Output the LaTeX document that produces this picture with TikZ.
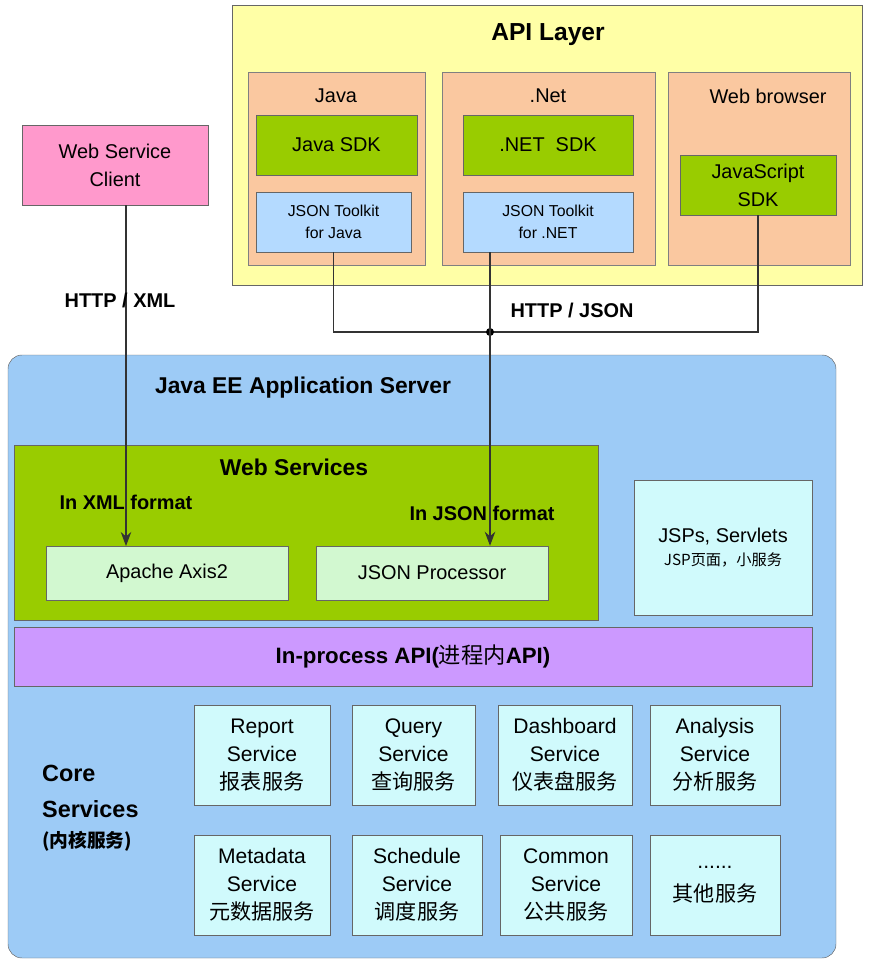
\documentclass[tikz,border=0pt]{standalone}
\usepackage{fontspec}
\setmainfont{Liberation Sans}
\newfontfamily\cjk{Noto Sans CJK SC}
\usetikzlibrary{arrows.meta}
\definecolor{apiyellow}{HTML}{FFFFA6}
\definecolor{peach}{HTML}{FAC8A0}
\definecolor{sdkgreen}{HTML}{99CC00}
\definecolor{toolblue}{HTML}{B4DAFF}
\definecolor{serverblue}{HTML}{9DCBF6}
\definecolor{procgreen}{HTML}{D2F8D0}
\definecolor{apipurple}{HTML}{CC99FF}
\definecolor{svccyan}{HTML}{D0FAFC}
\definecolor{clientpink}{HTML}{FF99CC}
\tikzset{
  box/.style={draw=black!60, line width=0.6pt, inner sep=0pt, align=center, font=\fontsize{17}{21}\selectfont},
  lbl/.style={font=\bfseries\fontsize{17}{20}\selectfont, inner sep=1pt},
  conn/.style={draw=black!80, line width=0.9pt},
  arr/.style={conn, -{Stealth[length=12pt, width=9pt]}},
}
\newcommand{\pbox}[6]{% name, style, x1, y1, x2, y2
  \path[#2] (#3,#4) rectangle (#5,#6);
  \coordinate (#1) at ({(#3+#5)/2},{(#4+#6)/2});
  \node[inner sep=0pt, minimum width={(#5-#3)*0.03cm}, minimum height={(#6-#4)*0.03cm}] (#1) at (#1) {};}
\begin{document}
\begin{tikzpicture}[x=0.03cm, y=-0.03cm]
  \useasboundingbox (0,0) rectangle (868,964);
  % API layer
  \pbox{api}{draw=black!60, fill=apiyellow}{232}{5}{862}{285}
  \node[font=\bfseries\fontsize{21}{24}\selectfont] at (548,35) {API Layer};
  \pbox{java}{draw=black!50, fill=peach}{248}{72}{425}{265}
  \pbox{dotnet}{draw=black!50, fill=peach}{442}{72}{655}{265}
  \pbox{browser}{draw=black!50, fill=peach}{668}{72}{850}{265}
  \node[font=\fontsize{17}{20}\selectfont] at (336,96) {Java};
  \node[font=\fontsize{17}{20}\selectfont] at (548,96) {.Net};
  \node[font=\fontsize{17}{20}\selectfont] at (768,96) {Web browser};
  \pbox{javasdk}{draw=black!60, fill=sdkgreen}{256}{115}{417}{175}
  \pbox{netsdk}{draw=black!60, fill=sdkgreen}{463}{115}{633}{175}
  \pbox{jssdk}{draw=black!60, fill=sdkgreen}{680}{155}{836}{215}
  \node[box, draw=none] at (javasdk) {Java SDK};
  \node[box, draw=none] at (netsdk) {.NET\ \ SDK};
  \node[box, draw=none, font=\fontsize{17}{24}\selectfont] at (jssdk) {JavaScript\\SDK};
  \pbox{javajson}{draw=black!60, fill=toolblue}{256}{192}{411}{252}
  \pbox{netjson}{draw=black!60, fill=toolblue}{463}{192}{633}{252}
  \node[box, draw=none, font=\fontsize{13.5}{19}\selectfont] at (javajson) {JSON Toolkit\\for Java};
  \node[box, draw=none, font=\fontsize{13.5}{19}\selectfont] at (netjson) {JSON Toolkit\\for .NET};
  % client
  \pbox{client}{draw=black!60, fill=clientpink}{22}{125}{208}{205}
  \node[box, draw=none, font=\fontsize{17}{24}\selectfont] at (client) {Web Service\\Client};
  % server
  \fill[serverblue, draw=black!60, rounded corners=12pt] (8,355) rectangle (836,958);
  \node[font=\bfseries\fontsize{19.5}{22}\selectfont] at (303,388) {Java EE Application Server};
  \pbox{ws}{draw=black!60, fill=sdkgreen}{14}{445}{598}{620}
  \node[font=\bfseries\fontsize{19.5}{22}\selectfont] at (294,467) {Web Services};
  \pbox{axis}{draw=black!60, fill=procgreen}{46}{546}{288}{600}
  \pbox{jproc}{draw=black!60, fill=procgreen}{316}{546}{548}{600}
  \node[box, draw=none] at (axis) {Apache Axis2};
  \node[box, draw=none] at (jproc) {JSON Processor};
  \node[lbl] at (126,502) {In XML format};
  \node[lbl] at (482,513) {In JSON format};
  \pbox{jsp}{draw=black!60, fill=svccyan}{634}{480}{812}{615}
  \node[box, draw=none, font=\fontsize{17}{22}\selectfont] at (jsp) {JSPs, Servlets\\[-2pt]{\cjk\fontsize{13}{16}\selectfont JSP页面，小服务}};
  \pbox{inproc}{draw=black!60, fill=apipurple}{14}{627}{812}{686}
  \node[font=\bfseries\fontsize{19}{22}\selectfont] at (inproc) {In-process API({\cjk\mdseries 进程内}API)};
  \node[font=\bfseries\fontsize{20}{31}\selectfont, align=left, anchor=west] at (38,808)
    {Core\\Services\\[-6pt]{\cjk\fontsize{16}{19}\selectfont (内核服务)}};
  % core services
  \foreach \name/\xa/\xb/\ya/\yb/\en/\cn in {
      report/194/330/705/805/Report/报表服务,
      query/352/475/705/805/Query/查询服务,
      dash/498/632/705/805/Dashboard/仪表盘服务,
      analysis/650/780/705/805/Analysis/分析服务,
      meta/194/330/835/935/Metadata/元数据服务,
      sched/352/482/835/935/Schedule/调度服务,
      common/500/632/835/935/Common/公共服务}{
    \pbox{\name}{draw=black!60, fill=svccyan}{\xa}{\ya}{\xb}{\yb}
    \node[box, draw=none, font=\fontsize{18}{24}\selectfont] at (\name) {\en\\Service\\{\cjk\fontsize{18}{22}\selectfont\cn}};
  }
  \pbox{other}{draw=black!60, fill=svccyan}{650}{835}{780}{935}
  \node[box, draw=none, font=\fontsize{18}{28}\selectfont] at (other) {......\\{\cjk\fontsize{18}{22}\selectfont 其他服务}};
  % connectors
  \coordinate (bus) at (490,332);
  \draw[conn] (javajson.south) |- (bus) -| (jssdk.south);
  \fill (bus) circle (4);
  \draw[arr] (bus |- netjson.south) -- (bus |- jproc.north);
  \draw[arr] (client.south -| 126,0) -- (126,546);
  \node[lbl] at (120,300) {HTTP / XML};
  \node[lbl] at (572,310) {HTTP / JSON};
\end{tikzpicture}
\end{document}
